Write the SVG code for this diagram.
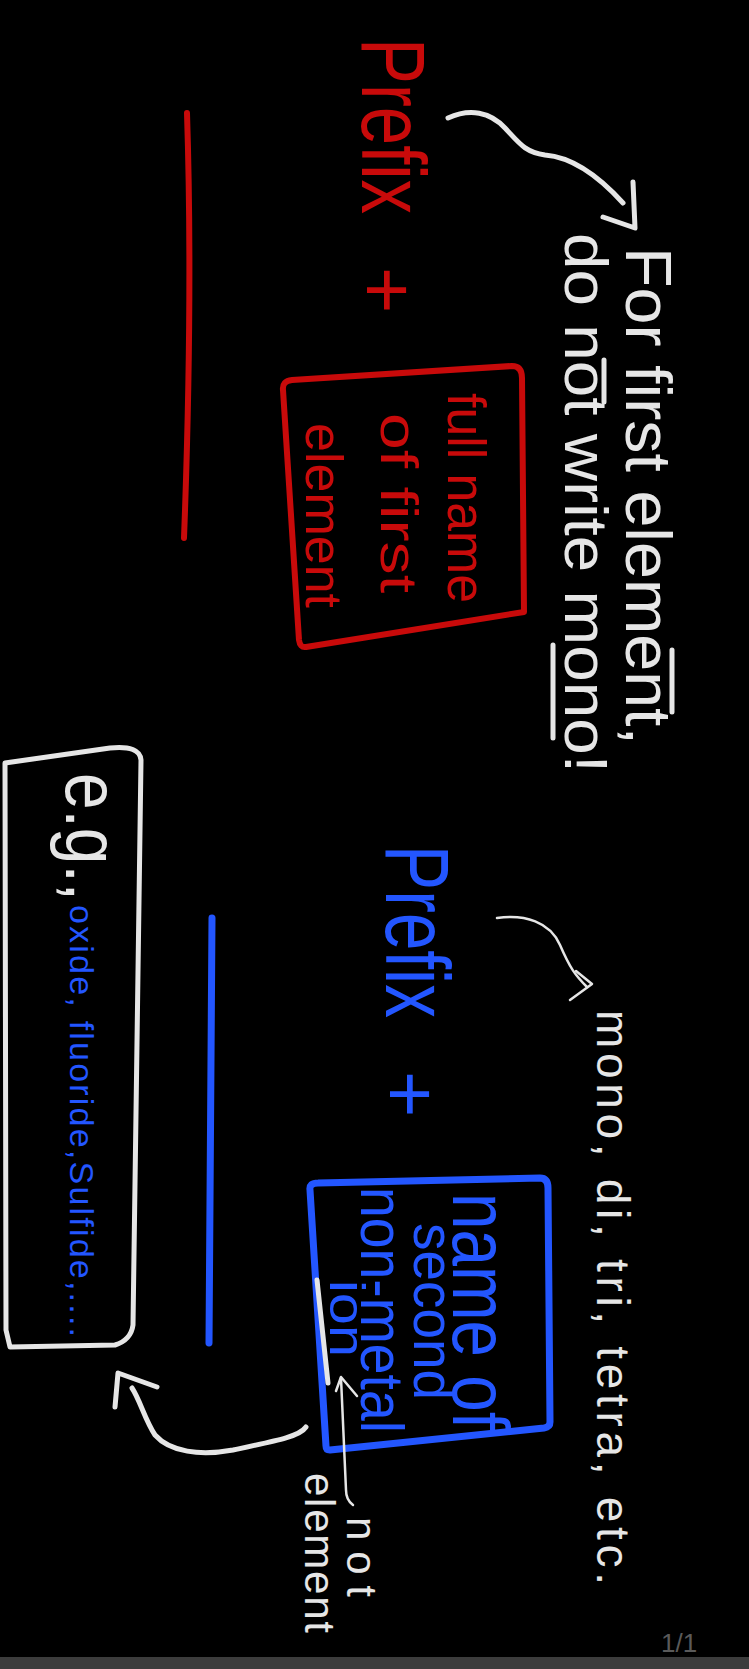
<svg xmlns="http://www.w3.org/2000/svg" width="749" height="1669" viewBox="0 0 749 1669">
<style>
text{font-family:"Liberation Sans",Arial,sans-serif}
.w{fill:#e6e6e6}
.r{fill:#c80a0a}
.b{fill:#2356ff}
.ws{stroke:#e6e6e6;fill:none;stroke-width:5;stroke-linecap:round;stroke-linejoin:round}
.wt{stroke:#e6e6e6;fill:none;stroke-width:2.5;stroke-linecap:round;stroke-linejoin:round}
.rs{stroke:#c80a0a;fill:none;stroke-width:6;stroke-linecap:round;stroke-linejoin:round}
.bs{stroke:#2356ff;fill:none;stroke-width:7;stroke-linecap:round;stroke-linejoin:round}
</style>
<rect width="749" height="1669" fill="#000"/>
<rect y="1657" width="749" height="12" fill="#3c3c3c"/>
<text x="661" y="1652" font-size="26" fill="#5a5a5a">1/1</text>

<g id="red-prefix">
<text class="r" transform="translate(362,38) rotate(90)" font-size="90" textLength="176" lengthAdjust="spacingAndGlyphs">Prefix</text>
<text class="r" transform="translate(360,290) rotate(90)" font-size="80" text-anchor="middle">+</text>
<path class="rs" d="M187 113 Q193 300 184 538"/>
</g>

<g id="red-box">
<path class="rs" d="M283 390 Q282 381 292 380 L512 366 Q522 366 522 378 L524 612 L306 647 Q300 648 299 640 Z"/>
<text class="r" transform="translate(448,393) rotate(90)" font-size="54" textLength="210" lengthAdjust="spacingAndGlyphs">full name</text>
<text class="r" transform="translate(381,413) rotate(90)" font-size="52" textLength="180" lengthAdjust="spacingAndGlyphs">of first</text>
<text class="r" transform="translate(306,423) rotate(90)" font-size="52" textLength="185" lengthAdjust="spacingAndGlyphs">element</text>
</g>

<g id="note-first">
<text class="w" transform="translate(626,247) rotate(90)" font-size="64" textLength="498" lengthAdjust="spacingAndGlyphs">For first element,</text>
<text class="w" transform="translate(565,233) rotate(90)" font-size="62" textLength="540" lengthAdjust="spacingAndGlyphs">do not write mono!</text>
<path class="ws" d="M553 645 L553 738 M604 360 L604 402 M672 650 L672 712"/>
</g>

<g id="blue-prefix">
<text class="b" transform="translate(386,845) rotate(90)" font-size="90" textLength="173" lengthAdjust="spacingAndGlyphs">Prefix</text>
<text class="b" transform="translate(383,1094) rotate(90)" font-size="80" text-anchor="middle">+</text>
<path class="bs" d="M212 918 L209 1343"/>
</g>

<g id="note-prefixes">
<text class="w" transform="translate(597,1010) rotate(90)" font-size="46" textLength="575" lengthAdjust="spacing">mono, di, tri, tetra, etc.</text>
</g>

<g id="blue-box">
<path class="bs" stroke-width="8" d="M310 1190 Q309 1183 318 1183 L540 1178 Q548 1178 548 1188 L550 1422 Q550 1427 544 1428 L330 1450 Q326 1450 326 1446 Z"/>
<text class="b" transform="translate(453,1193) rotate(90)" font-size="80" textLength="237" lengthAdjust="spacingAndGlyphs">name of</text>
<text class="b" transform="translate(414,1223) rotate(90)" font-size="58" textLength="177" lengthAdjust="spacingAndGlyphs">second</text>
<text class="b" transform="translate(361,1187) rotate(90)" font-size="62" textLength="246" lengthAdjust="spacingAndGlyphs">non-metal</text>
<text class="b" transform="translate(330,1280) rotate(90)" font-size="50" textLength="77" lengthAdjust="spacingAndGlyphs">ion</text>
</g>

<g id="note-ion">
<path class="ws" stroke-width="4" d="M317 1280 L328 1383"/>
<text class="w" transform="translate(347,1517) rotate(90)" font-size="42" textLength="80" lengthAdjust="spacing">not</text>
<text class="w" transform="translate(305,1473) rotate(90)" font-size="42" textLength="160" lengthAdjust="spacing">element</text>
</g>

<g id="example-box">
<path class="ws" stroke-width="4" d="M5 763 L110 748 Q140 745 141 760 L133 1325 Q131 1340 115 1345 L10 1347 L6 1330 Z"/>
<text class="w" transform="translate(66,773) rotate(90)" font-size="76" textLength="128" lengthAdjust="spacingAndGlyphs">e.g.,</text>
<text class="b" transform="translate(70,905) rotate(90)" font-size="34" textLength="432" lengthAdjust="spacing">oxide, fluoride,Sulfide,....</text>
</g>

<g id="connectors">
<path class="ws" d="M448 118 C470 108 490 112 505 128 S525 152 545 155 C570 157 595 172 623 203"/>
<polyline class="ws" points="633,182 635,228 603,217"/>
<path class="wt" stroke-width="3" d="M497 918 C525 914 550 922 560 945 S575 975 587 987"/>
<polyline class="wt" stroke-width="3" points="576,971 592,984 570,1000"/>
<path class="ws" d="M306 1427 C300 1436 280 1440 233 1450 C200 1456 170 1452 155 1435 C145 1420 140 1400 132 1388"/>
<polyline class="ws" points="115,1407 118,1373 157,1387"/>
<path class="wt" d="M353 1505 Q346 1500 346 1490 L341 1378"/>
<polyline class="wt" points="336,1391 341,1377 357,1396"/>
</g>
</svg>
